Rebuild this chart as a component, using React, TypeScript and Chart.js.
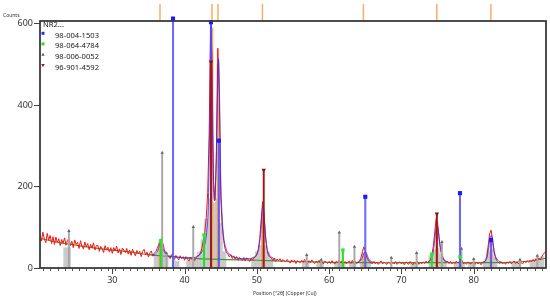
import { useEffect, useRef } from 'react';
import { Chart, registerables } from 'chart.js';

Chart.register(...registerables);

// ---------- measured scan (2θ from 20° to 90°, step 0.2°) ----------
const scanStart = 20;
const scanStep = 0.2;
const scanCounts = [
  82, 66, 88, 71, 62, 85, 68, 80, 60, 77,
  58, 76, 63, 72, 55, 70, 61, 74, 56, 68,
  72, 55, 66, 50, 69, 58, 63, 48, 67, 54,
  47, 64, 52, 60, 45, 58, 49, 62, 44, 55,
  56, 41, 53, 47, 38, 55, 44, 51, 39, 50,
  36, 50, 42, 54, 37, 47, 33, 49, 44, 38,
  48, 34, 44, 31, 46, 38, 30, 43, 35, 41,
  28, 41, 46, 32, 39, 27, 37, 42, 29, 36,
  40, 47, 57, 68, 73, 60, 45, 37, 31, 28,
  23, 33, 26, 21, 31, 25, 20, 30, 23, 28,
  19, 28, 22, 17, 27, 21, 29, 18, 25, 30,
  31, 37, 49, 68, 88, 124, 185, 330, 600, 520,
  215, 168, 270, 540, 430, 175, 105, 68, 48, 38,
  34, 27, 33, 23, 30, 21, 28, 19, 26, 22,
  18, 26, 17, 25, 21, 16, 24, 19, 25, 27,
  33, 46, 72, 118, 163, 128, 74, 44, 32, 26,
  25, 18, 24, 16, 22, 18, 23, 15, 21, 17,
  15, 21, 16, 12, 20, 14, 19, 11, 18, 15,
  13, 19, 14, 21, 15, 11, 18, 13, 20, 14,
  11, 17, 13, 19, 12, 16, 10, 17, 14, 11,
  16, 11, 18, 12, 10, 17, 13, 20, 12, 18,
  11, 16, 10, 15, 17, 11, 19, 12, 16, 11,
  14, 17, 25, 40, 52, 43, 27, 19, 15, 12,
  11, 16, 10, 15, 9, 14, 17, 10, 15, 11,
  9, 15, 11, 8, 14, 10, 16, 9, 13, 15,
  10, 14, 8, 15, 11, 9, 16, 11, 8, 14,
  11, 16, 9, 14, 10, 15, 11, 17, 12, 16,
  20, 31, 52, 86, 121, 113, 74, 46, 31, 22,
  17, 13, 17, 11, 16, 10, 15, 11, 17, 12,
  16, 11, 18, 10, 14, 9, 15, 11, 10, 14,
  12, 9, 15, 10, 14, 8, 13, 15, 17, 28,
  54, 84, 93, 71, 41, 25, 18, 15, 11, 15,
  10, 14, 9, 15, 11, 16, 10, 14, 17, 11,
  15, 10, 16, 12, 11, 17, 13, 18, 14, 19,
  15, 21, 16, 23, 18, 25, 20, 27, 33, 38,
  40,
];

// ---------- background (green) ----------
const bgAngles = [20, 22, 25, 28, 30, 33, 35, 38, 40, 45, 50, 55, 60, 65, 70, 75, 80, 85, 87, 88.5, 90];
const bgCounts = [73, 65, 56, 48, 44, 38, 33, 28, 25, 21, 19, 16, 14, 13, 13, 13, 13, 14, 16, 19, 24];

// ---------- fitted profile (blue), null breaks segments ----------
const fitAngles = [
  35.4, 35.8, 36.1, 36.3, 36.5, 36.7, 36.9, 37.1, 37.4, 37.8, 38.4, 39.0, 40.0, 41.0, 41.6, 42.0, 42.4, 42.8,
  43.1, 43.3, 43.5, 43.65, 43.8, 44.0, 44.15, 44.3, 44.5, 44.7, 44.85, 45.0, 45.2, 45.4, 45.7, 46.0, 46.5, 47.0,
  48.0, 49.0, 49.6, 50.0, 50.3, 50.5, 50.7, 50.85, 51.0, 51.2, 51.4, 51.7, 52.0, 52.6,
  58.0,
  63.8, 64.3, 64.6, 64.8, 65.0, 65.2, 65.4, 65.7, 66.2,
  70.0,
  73.6, 74.0, 74.3, 74.5, 74.7, 74.9, 75.1, 75.3, 75.5, 75.8, 76.3,
  79.0,
  81.2, 81.6, 81.9, 82.1, 82.3, 82.45, 82.6, 82.8, 83.0, 83.4, 83.9,
];
const fitCounts = [
  32, 32, 37, 43, 54, 63, 55, 43, 34, 30, 28, 27, 25, 25, 27, 31, 40, 58,
  95, 165, 390, 602, 410, 205, 165, 210, 380, 514, 410, 225, 125, 78, 50, 38, 30, 26,
  23, 23, 27, 34, 52, 82, 132, 155, 132, 82, 50, 33, 27, 22,
  null,
  14, 17, 26, 35, 40, 35, 25, 17, 14,
  null,
  14, 19, 32, 52, 85, 105, 92, 62, 40, 24, 15,
  null,
  13, 17, 30, 55, 76, 80, 68, 45, 29, 18, 14,
];

// ---------- grey profile blocks ----------
const greyAngles = [
  23.5, 24.0, 36.0, 36.5, 37.0, 37.5, 38.5, 39.0, 40.5, 41.0, 41.5,
  42.0, 42.5, 43.0, 43.5, 44.0, 44.5, 45.0, 45.5,
  49.5, 50.0, 50.5, 51.0, 51.5, 52.0, 56.5, 57.0, 58.5, 59.0,
  61.0, 61.5, 62.0, 63.0, 63.5, 64.5, 65.0, 65.5, 71.5, 72.0,
  74.0, 74.5, 75.0, 75.5, 76.0, 77.5, 78.0, 78.5, 79.5, 80.0,
  81.5, 82.0, 82.5, 83.0, 85.5, 86.0, 88.0, 88.5, 89.0, 89.5,
];
const greyCounts = [
  50, 50, 34, 46, 44, 30, 18, 16, 18, 22, 20,
  40, 70, 120, 170, 160, 170, 110, 40,
  25, 40, 55, 55, 40, 22, 14, 14, 12, 12,
  14, 16, 14, 14, 16, 22, 28, 20, 12, 14,
  30, 45, 48, 35, 18, 12, 14, 12, 12, 12,
  18, 40, 45, 25, 12, 12, 16, 20, 24, 28,
];

// ---------- reference patterns ----------
const legendTitle = 'NR2...';
const phaseNames = ['98-004-1503', '98-064-4784', '98-006-0052', '96-901-4592'];

const blueStickAngles = [38.4, 43.65, 44.75, 65.0, 78.1, 82.4];
const blueStickCounts = [613, 604, 313, 175, 184, 69];

const greenStickAngles = [36.7, 42.7, 61.9, 74.2, 78.1];
const greenStickCounts = [67, 81, 44, 34, 27];

const greyStickAngles = [24.0, 36.9, 37.5, 41.2, 56.9, 58.9, 61.4, 63.5, 68.6, 72.1, 75.6, 78.3, 80.0, 86.4, 88.8];
const greyStickCounts = [91, 283, 36, 101, 32, 20, 87, 52, 25, 37, 64, 47, 22, 20, 30];

const redStickAngles = [43.65, 50.95, 74.9];
const redStickCounts = [507, 241, 133];

// ---------- peak list (orange) ----------
const peakAngles = [36.6, 43.79, 44.62, 50.77, 64.74, 74.9, 82.38];
const peakCounts = [60, 590, 500, 135, 38, 100, 70];

// ---------- axes ----------
const xMin = 20;
const xMax = 90;
const xLabelValues = [30, 40, 50, 60, 70, 80];
const yMax = 607;
const yTickValues = [0, 200, 400, 600];

const FONT = "'Noto Sans', 'DejaVu Sans', sans-serif";

const pts = (xs: number[], ys: (number | null)[]) => xs.map((x, i) => ({ x, y: ys[i] }));

const phaseColors = ['#2a2aff', '#22dd22', '#9a9a9a', '#9a1515'];

const decorPlugin = {
  id: 'decor',
  afterDatasetsDraw(chart: any) {
    const { ctx, chartArea: a, scales } = chart;
    const x = scales.x;
    ctx.save();
    ctx.strokeStyle = '#3a3a3a';
    ctx.lineWidth = 1.8;
    ctx.strokeRect(a.left, a.top, a.right - a.left, a.bottom - a.top);
    ctx.lineWidth = 1;
    ctx.strokeStyle = '#444';
    xLabelValues.forEach((v) => {
      const px = Math.round(x.getPixelForValue(v)) + 0.5;
      ctx.beginPath();
      ctx.moveTo(px, a.bottom);
      ctx.lineTo(px, a.bottom + 6);
      ctx.stroke();
    });
    ctx.strokeStyle = '#f7ad68';
    ctx.lineWidth = 1.5;
    peakAngles.forEach((v) => {
      const px = x.getPixelForValue(v);
      ctx.beginPath();
      ctx.moveTo(px, 4);
      ctx.lineTo(px, a.top - 1);
      ctx.stroke();
    });
    ctx.fillStyle = '#333';
    ctx.font = `5px ${FONT}`;
    ctx.textBaseline = 'middle';
    ctx.textAlign = 'left';
    ctx.fillText('Counts', 3, 15.5);
    ctx.fillText('Position [°2θ] (Copper (Cu))', 253, 294);
    ctx.font = `7.6px ${FONT}`;
    ctx.fillStyle = '#222';
    ctx.fillText(legendTitle, a.left + 3, 25);
    phaseNames.forEach((name, i) => {
      const ty = 35.7 + i * 10.6;
      ctx.fillStyle = '#222';
      ctx.fillText(name, 55, ty);
      const mx = 43;
      const my = ty - 2.4;
      ctx.fillStyle = phaseColors[i];
      if (i === 0 || i === 1) {
        ctx.fillRect(mx - 1.5, my - 1.5, 3, 3);
      } else if (i === 2) {
        ctx.beginPath();
        ctx.moveTo(mx, my - 1.8);
        ctx.lineTo(mx + 1.6, my + 1.2);
        ctx.lineTo(mx - 1.6, my + 1.2);
        ctx.closePath();
        ctx.fillStyle = '#555';
        ctx.fill();
      } else {
        ctx.beginPath();
        ctx.moveTo(mx, my + 1.8);
        ctx.lineTo(mx + 1.8, my - 1.2);
        ctx.lineTo(mx - 1.8, my - 1.2);
        ctx.closePath();
        ctx.fill();
      }
    });
    ctx.restore();
  },
};

function stickBars(xs: number[], ys: number[], color: string, thickness: number, order: number) {
  return {
    type: 'bar' as const,
    data: pts(xs, ys),
    backgroundColor: color,
    borderWidth: 0,
    barThickness: thickness,
    grouped: false,
    clip: false as const,
    order,
  };
}

function stickMarkers(xs: number[], ys: number[], color: string, style: string, radius: number, rotation: number, order: number) {
  return {
    type: 'line' as const,
    data: pts(xs, ys),
    showLine: false,
    pointStyle: style,
    pointRadius: radius,
    pointRotation: rotation,
    pointBackgroundColor: color,
    pointBorderColor: color,
    pointBorderWidth: 0,
    clip: false as const,
    order,
  };
}

export default function App() {
  const canvasRef = useRef<HTMLCanvasElement>(null);

  useEffect(() => {
    if (!canvasRef.current) return;
    const scanPoints = scanCounts.map((c, i) => ({ x: scanStart + i * scanStep, y: c }));

    const chart = new Chart(canvasRef.current, {
      type: 'line',
      data: {
        datasets: [
          {
            type: 'bar',
            data: pts(greyAngles, greyCounts),
            backgroundColor: 'rgba(175,175,175,0.65)',
            borderWidth: 0,
            barThickness: 3.3,
            grouped: false,
            order: 12,
          } as any,
          stickBars(peakAngles, peakCounts, 'rgba(245,160,80,0.9)', 2, 11) as any,
          {
            data: pts(bgAngles, bgCounts),
            borderColor: '#3d9a35',
            borderWidth: 1.2,
            pointRadius: 0,
            tension: 0.4,
            order: 10,
          },
          {
            data: scanPoints,
            borderColor: '#ff1010',
            borderWidth: 1,
            pointRadius: 0,
            tension: 0,
            order: 9,
          },
          {
            data: pts(fitAngles, fitCounts),
            borderColor: 'rgba(45,45,255,0.8)',
            borderWidth: 1,
            pointRadius: 0,
            cubicInterpolationMode: 'monotone',
            spanGaps: false,
            order: 7,
          },
          stickBars(greyStickAngles, greyStickCounts, '#a8a8a8', 1.3, 6) as any,
          stickBars(greenStickAngles, greenStickCounts, '#22e022', 1.4, 5) as any,
          stickBars(blueStickAngles, blueStickCounts, 'rgba(80,80,255,0.85)', 1.4, 4) as any,
          stickBars(redStickAngles, redStickCounts, '#a01818', 1.3, 3) as any,
          stickMarkers(greyStickAngles, greyStickCounts, '#6a6a6a', 'triangle', 2, 0, 2) as any,
          stickMarkers(greenStickAngles, greenStickCounts, '#22ee22', 'rect', 2.4, 0, 2) as any,
          stickMarkers(blueStickAngles, blueStickCounts, '#1a1aff', 'rect', 2.9, 0, 1) as any,
          stickMarkers(redStickAngles, redStickCounts, '#8a1010', 'triangle', 2.6, 180, 1) as any,
        ],
      },
      options: {
        responsive: false,
        animation: false,
        events: [],
        layout: { padding: { top: 21, right: 4, left: 0, bottom: 0 } },
        plugins: { legend: { display: false }, tooltip: { enabled: false } },
        scales: {
          x: {
            type: 'linear',
            min: xMin,
            max: xMax,
            offset: false,
            afterFit: (s: any) => { s.height = 33; },
            afterBuildTicks: (s: any) => {
              const t: { value: number }[] = [];
              for (let v = xMin + 1; v < xMax; v += 1) t.push({ value: v });
              s.ticks = t;
            },
            ticks: {
              autoSkip: false,
              maxRotation: 0,
              padding: 4,
              color: '#333',
              font: { size: 9, family: FONT },
              callback: (v: any) => (xLabelValues.includes(Number(v)) ? String(v) : ''),
            },
            grid: { drawOnChartArea: false, tickLength: 3, tickColor: '#555', tickWidth: 1 },
            border: { display: false },
          },
          y: {
            type: 'linear',
            min: 0,
            max: yMax,
            afterFit: (s: any) => { s.width = 40; },
            afterBuildTicks: (s: any) => { s.ticks = yTickValues.map((v) => ({ value: v })); },
            ticks: {
              padding: 1,
              color: '#333',
              font: { size: 9, family: FONT },
            },
            grid: { drawOnChartArea: false, tickLength: 6, tickColor: '#444', tickWidth: 1 },
            border: { display: false },
          },
        },
      },
      plugins: [decorPlugin],
    } as any);

    return () => chart.destroy();
  }, []);

  return (
    <div style={{ position: 'fixed', left: 0, top: 0, width: 550, height: 301, background: '#fff' }}>
      <canvas ref={canvasRef} width={550} height={301} style={{ width: 550, height: 301, display: 'block' }} />
    </div>
  );
}
